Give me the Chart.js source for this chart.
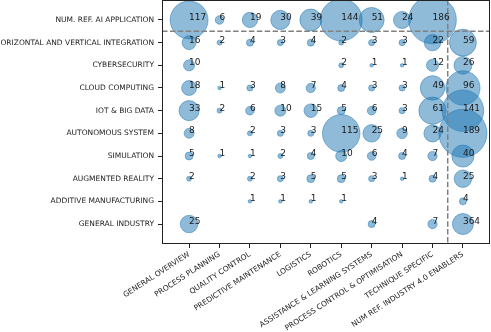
<!DOCTYPE html>
<html>
<head>
<meta charset="utf-8">
<script src="https://cdn.jsdelivr.net/npm/chart.js@4/dist/chart.umd.min.js"></script>
<style>
  html, body { margin: 0; padding: 0; background: #fff; }
  #wrap { width: 491px; height: 332px; }
</style>
</head>
<body>
<div id="wrap"><canvas id="bubbleChart" width="491" height="332"></canvas></div>
<script>
// column categories (x axis)
const techniques = [
  "GENERAL OVERVIEW", "PROCESS PLANNING", "QUALITY CONTROL", "PREDICTIVE MAINTENANCE",
  "LOGISTICS", "ROBOTICS", "ASSISTANCE & LEARNING SYSTEMS", "PROCESS CONTROL & OPTIMISATION",
  "TECHNIQUE SPECIFIC", "NUM REF. INDUSTRY 4.0 ENABLERS"
];

// row categories (y axis, top to bottom)
const enablers = [
  "NUM. REF. AI APPLICATION", "HORIZONTAL AND VERTICAL INTEGRATION", "CYBERSECURITY",
  "CLOUD COMPUTING", "IOT & BIG DATA", "AUTONOMOUS SYSTEM", "SIMULATION",
  "AUGMENTED REALITY", "ADDITIVE MANUFACTURING", "GENERAL INDUSTRY"
];

// counts per row, one value per column (null = no bubble)
const numRefAi       = [117, 6, 19, 30, 39, 144, 51, 24, 186, null];
const horizVertical  = [16, 2, 4, 3, 4, 2, 3, 3, 22, 59];
const cybersecurity  = [10, null, null, null, null, 2, 1, 1, 12, 26];
const cloudComputing = [18, 1, 3, 8, 7, 4, 3, 3, 49, 96];
const iotBigData     = [33, 2, 6, 10, 15, 5, 6, 3, 61, 141];
const autonomous     = [8, null, 2, 3, 3, 115, 25, 9, 24, 189];
const simulation     = [5, 1, 1, 2, 4, 10, 6, 4, 7, 40];
const augmented      = [2, null, 2, 3, 5, 5, 3, 1, 4, 25];
const additive       = [null, null, 1, 1, 1, 1, null, null, null, 4];
const generalInd     = [25, null, null, null, null, null, 4, null, 7, 364];

// the "364" bubble is drawn at the size of 36 in the picture
const sizeOverrides = { "9,9": 36 };

const rows = [numRefAi, horizVertical, cybersecurity, cloudComputing, iotBigData,
              autonomous, simulation, augmented, additive, generalInd];

const points = [];
rows.forEach((row, r) => {
  row.forEach((v, c) => {
    if (v === null) return;
    const sz = sizeOverrides[r + "," + c] || v;
    points.push({ x: c, y: r, r: 1.75 * Math.sqrt(sz), label: String(v) });
  });
});

const FONT = "'DejaVu Sans', sans-serif";

// dashed separators + frame + value labels
const extras = {
  id: "extras",
  afterDatasetsDraw(chart) {
    const ctx = chart.ctx;
    const a = chart.chartArea;
    const xs = chart.scales.x, ys = chart.scales.y;

    ctx.save();
    ctx.strokeStyle = "#808080";
    ctx.lineWidth = 1.5;
    ctx.setLineDash([5.5, 2.4]);
    const hy = ys.getPixelForValue(0.5);
    ctx.beginPath();
    ctx.moveTo(a.left, hy);
    ctx.lineTo(a.right, hy);
    ctx.stroke();
    const vx = xs.getPixelForValue(8.5);
    ctx.beginPath();
    ctx.moveTo(vx, a.top);
    ctx.lineTo(vx, a.bottom);
    ctx.stroke();
    ctx.restore();

    ctx.save();
    ctx.strokeStyle = "#222";
    ctx.lineWidth = 1;
    ctx.strokeRect(a.left + 0.5, a.top + 0.5, a.right - a.left - 1, a.bottom - a.top - 1);
    ctx.restore();

    ctx.save();
    ctx.fillStyle = "#1a1a1a";
    ctx.font = "9px " + FONT;
    ctx.textAlign = "left";
    ctx.textBaseline = "alphabetic";
    chart.getDatasetMeta(0).data.forEach((el, i) => {
      ctx.fillText(points[i].label, el.x, el.y);
    });
    ctx.restore();
  }
};

new Chart(document.getElementById("bubbleChart"), {
  type: "bubble",
  data: {
    datasets: [{
      data: points,
      backgroundColor: "rgba(31, 119, 180, 0.5)",
      borderColor: "rgba(31, 119, 180, 0.5)",
      borderWidth: 1,
      clip: 0
    }]
  },
  options: {
    responsive: false,
    animation: false,
    events: [],
    layout: { autoPadding: false, padding: { top: 0, right: 1, left: 0, bottom: 0 } },
    plugins: { legend: { display: false }, tooltip: { enabled: false } },
    scales: {
      x: {
        type: "linear",
        min: -0.89,
        max: 9.89,
        afterBuildTicks: (s) => { s.ticks = techniques.map((t, i) => ({ value: i })); },
        afterFit: (s) => { s.height = 88; s.paddingLeft = 0; s.paddingRight = 0; },
        grid: { drawOnChartArea: false, drawTicks: true, tickLength: 4, color: "#222" },
        border: { display: false },
        ticks: {
          autoSkip: false,
          minRotation: 33,
          maxRotation: 33,
          padding: 2,
          color: "#222",
          font: { family: FONT, size: 7.5 },
          callback: (v) => techniques[v]
        }
      },
      y: {
        type: "linear",
        reverse: true,
        min: -0.88,
        max: 9.88,
        afterBuildTicks: (s) => { s.ticks = enablers.map((t, i) => ({ value: i })); },
        afterFit: (s) => { s.width = 162; s.paddingTop = 0; s.paddingBottom = 0; },
        grid: { drawOnChartArea: false, drawTicks: true, tickLength: 4, color: "#222" },
        border: { display: false },
        ticks: {
          padding: 4,
          color: "#222",
          font: { family: FONT, size: 7.5 },
          callback: (v) => enablers[v]
        }
      }
    }
  },
  plugins: [extras]
});
</script>
</body>
</html>
